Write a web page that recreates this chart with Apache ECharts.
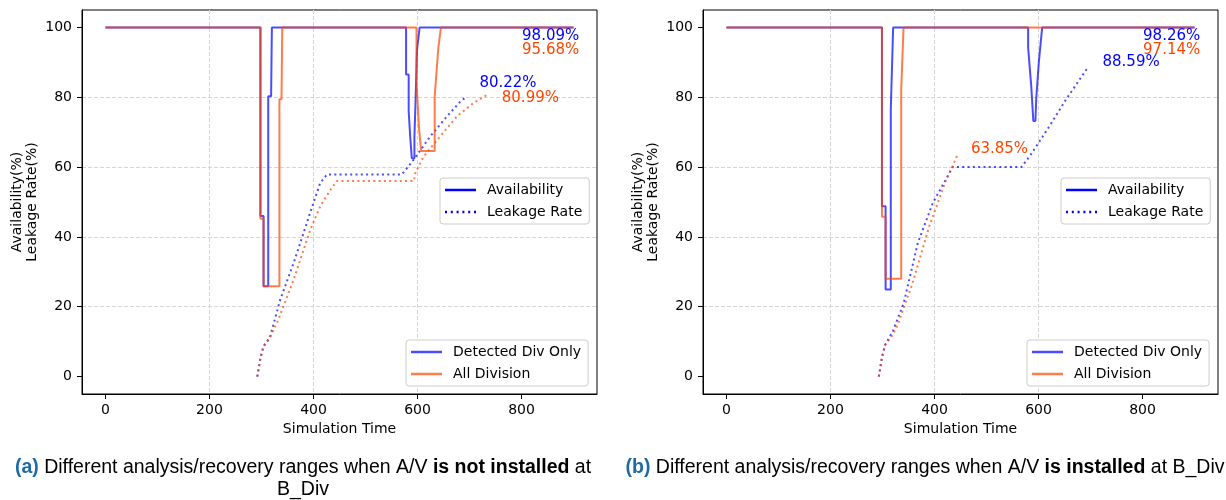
<!DOCTYPE html>
<html>
<head>
<meta charset="utf-8">
<script src="https://cdn.jsdelivr.net/npm/echarts@6/dist/echarts.min.js"></script>
<style>
  html, body { margin: 0; padding: 0; background: #fff; }
  #chart { width: 1226px; height: 500px; }
</style>
</head>
<body>
<div id="chart"></div>
<script>
// ---------- tick labels ----------
const xTicks = [0, 200, 400, 600, 800];
const yTicks = [0, 20, 40, 60, 80, 100];

// ---------- (a) A/V not installed at B_Div ----------
const aDetectedAvail = [[0,100],[298,100],[298,46],[304,46],[304,25.9],[313,25.9],[313,80.3],[318.5,80.3],[320,100],[578,100],[578,86.5],[583,86.5],[583,76],[586,68.5],[589,62.5],[594,62.5],[594,68.5],[596,78],[599,93.5],[604,100],[900,100]];
const aAllAvail = [[0,100],[298,100],[298,45.2],[304,45.2],[304,25.9],[334.5,25.9],[334.5,79.4],[338.5,79.4],[340,100],[598,100],[598,84.3],[601,84.3],[603,70.8],[607,64.6],[633,64.6],[633,80.3],[636,80.3],[640,94.2],[645,100],[900,100]];
const aDetectedLeak = [[292,0],[298,5.3],[304,8.7],[316,11.1],[336,22],[362,32.6],[400,49.8],[413,55.5],[426,57.9],[570,57.9],[593,62.2],[625,68.9],[657,74.6],[683,78.9],[695,80.22]];
const aAllLeak = [[292,0],[298,5.3],[304,8.7],[316,11.1],[330,15.4],[362,27.8],[394,42.1],[413,48.8],[433,53.6],[445,56.0],[593,56.0],[596,58.4],[612,63.1],[644,68.9],[676,74.6],[708,78.4],[737,80.99]];
const aNoteText = ['98.09%', '95.68%', '80.22%', '80.99%'];
const aNoteX = [800, 800, 718, 761];
const aNoteY = [97.4, 93.4, 84.2, 79.9];

// ---------- (b) A/V installed at B_Div ----------
const bDetectedAvail = [[0,100],[299,100],[299,48.8],[306,48.8],[306,24.9],[316,24.9],[316,76.5],[320.5,100],[580,100],[580,94.2],[583,94.2],[586,83.2],[589,83.2],[590,73.2],[594,73.2],[595.5,79.4],[600.5,89.9],[604,89.9],[607,100],[900,100]];
const bAllAvail = [[0,100],[299,100],[299,45.8],[306,45.8],[306,28],[336,28],[336,82.2],[339,82.2],[340.5,100],[900,100]];
const bDetectedLeak = [[293,0],[299,5.5],[305,9],[320,13],[341,21.1],[368,38.3],[397,49.8],[429,58.4],[435,60],[567,60],[583,63.1],[621,71.7],[653,79.4],[695,88.59]];
const bAllLeak = [[293,0],[299,5.5],[305,9],[320,12],[329.5,14.9],[358,26.8],[390,43.1],[422.5,56.4],[435,60.3],[445,63.85]];
const bNoteText = ['98.26%', '97.14%', '88.59%', '63.85%'];
const bNoteX = [800, 800, 722, 469];
const bNoteY = [97.5, 93.5, 90, 65.2];

// ---------- styling ----------
const FONT = 'DejaVu Sans';
const BLUE_A = 'rgba(0,0,255,0.7)';
const ORANGE_A = 'rgba(255,69,0,0.7)';
const BLUE_T = '#0000ff';
const ORANGE_T = '#ff4500';
const DOT = [2, 3.3];

let dotted = 'path://';
for (let i = 0; i < 6; i++) { const x = (i * 5.8).toFixed(1); dotted += `M${x},0h2v2.5h-2z`; }

function grid(left) { return { left: left, top: 10, width: 515, height: 384, show: true, borderColor: '#000', borderWidth: 1, backgroundColor: 'transparent', containLabel: false }; }

function xAx(i) {
  return {
    type: 'value', gridIndex: i, min: -45, max: 945, minInterval: 200, maxInterval: 200,
    name: 'Simulation Time', nameLocation: 'middle', nameGap: 28,
    nameTextStyle: { fontFamily: FONT, fontSize: 14, color: '#000' },
    axisLine: { show: true, onZero: false, lineStyle: { color: '#000', width: 1 } },
    axisTick: { show: true, length: 5, customValues: xTicks, lineStyle: { color: '#000', width: 1 } },
    axisLabel: { customValues: xTicks, margin: 9, fontFamily: FONT, fontSize: 14, color: '#000' },
    splitLine: { show: true, showMinLine: false, showMaxLine: false, lineStyle: { color: '#d6d6d6', type: [4, 2], width: 1 } }
  };
}
function yAx(i) {
  return {
    type: 'value', gridIndex: i, min: -5, max: 105, minInterval: 20, maxInterval: 20,
    name: 'Availability(%)\nLeakage Rate(%)', nameLocation: 'middle', nameGap: 42, nameRotate: 90,
    nameTextStyle: { fontFamily: FONT, fontSize: 14, color: '#000', lineHeight: 15, align: 'center' },
    axisLine: { show: true, onZero: false, lineStyle: { color: '#000', width: 1 } },
    axisTick: { show: true, length: 5, customValues: yTicks, lineStyle: { color: '#000', width: 1 } },
    axisLabel: { customValues: yTicks, margin: 10, fontFamily: FONT, fontSize: 14, color: '#000' },
    splitLine: { show: true, showMinLine: false, showMaxLine: false, lineStyle: { color: '#d6d6d6', type: [4, 2], width: 1 } }
  };
}

function notes(texts, xs, ys, idxs, color) {
  return {
    symbol: 'circle', symbolSize: 1, itemStyle: { color: 'rgba(0,0,0,0)' },
    label: { show: true, position: 'right', distance: 0, formatter: '{b}', color: color, fontFamily: FONT, fontSize: 15 },
    data: idxs.map(k => ({ name: texts[k], coord: [xs[k], ys[k]] }))
  };
}

function line(name, data, gi, color, dotted, mp) {
  const s = {
    type: 'line', name: name, data: data, xAxisIndex: gi, yAxisIndex: gi,
    symbol: 'none', showSymbol: false, color: color, clip: true,
    lineStyle: { color: color, width: 2, type: dotted ? DOT : 'solid', cap: 'butt' },
    emphasis: { disabled: true }
  };
  if (mp) s.markPoint = mp;
  return s;
}

const series = [
  { type: 'line', name: 'Availability', data: [], xAxisIndex: 0, yAxisIndex: 0, color: BLUE_T },
  { type: 'line', name: 'Leakage Rate', data: [], xAxisIndex: 0, yAxisIndex: 0, color: BLUE_T },
  line('Detected Div Only', aDetectedAvail, 0, BLUE_A, false, notes(aNoteText, aNoteX, aNoteY, [0], BLUE_T)),
  line('Detected Div Only', aDetectedLeak, 0, BLUE_A, true, notes(aNoteText, aNoteX, aNoteY, [2], BLUE_T)),
  line('All Division', aAllAvail, 0, ORANGE_A, false, notes(aNoteText, aNoteX, aNoteY, [1], ORANGE_T)),
  line('All Division', aAllLeak, 0, ORANGE_A, true, notes(aNoteText, aNoteX, aNoteY, [3], ORANGE_T)),
  line('Detected Div Only', bDetectedAvail, 1, BLUE_A, false, notes(bNoteText, bNoteX, bNoteY, [0], BLUE_T)),
  line('Detected Div Only', bDetectedLeak, 1, BLUE_A, true, notes(bNoteText, bNoteX, bNoteY, [2], BLUE_T)),
  line('All Division', bAllAvail, 1, ORANGE_A, false, notes(bNoteText, bNoteX, bNoteY, [1], ORANGE_T)),
  line('All Division', bAllLeak, 1, ORANGE_A, true, notes(bNoteText, bNoteX, bNoteY, [3], ORANGE_T))
];

function legendBox(left, top, items) {
  return {
    orient: 'vertical', left: left, top: top, align: 'left',
    itemWidth: 31, itemHeight: 2.5, itemGap: 8, padding: [5, 7, 5, 5],
    borderColor: '#cccccc', borderWidth: 1, borderRadius: 3, backgroundColor: 'rgba(255,255,255,0.8)',
    textStyle: { fontFamily: FONT, fontSize: 14, color: '#000', padding: [0, 0, 0, 6] },
    selectedMode: false, data: items
  };
}
const typeItems = [
  { name: 'Availability', icon: 'rect', itemStyle: { color: BLUE_T } },
  { name: 'Leakage Rate', icon: dotted, itemStyle: { color: BLUE_T } }
];
const caseItems = [
  { name: 'Detected Div Only', icon: 'rect', itemStyle: { color: BLUE_A } },
  { name: 'All Division', icon: 'rect', itemStyle: { color: ORANGE_A } }
];

const CAP = 'Liberation Sans';
function caption(x, text) {
  return {
    type: 'text', x: x, y: 457, z: 10,
    style: {
      text: text, align: 'center', verticalAlign: 'top',
      fontFamily: CAP, fontSize: 19.5, fill: '#000', lineHeight: 22,
      rich: {
        l: { fontFamily: CAP, fontSize: 19.5, fontWeight: 'bold', fill: '#1f6aa5', lineHeight: 22 },
        b: { fontFamily: CAP, fontSize: 19.5, fontWeight: 'bold', fill: '#000', lineHeight: 22 }
      }
    }
  };
}

const chart = echarts.init(document.getElementById('chart'), null, { renderer: 'canvas' });
chart.setOption({
  animation: false,
  backgroundColor: '#fff',
  grid: [grid(82), grid(703)],
  xAxis: [xAx(0), xAx(1)],
  yAxis: [yAx(0), yAx(1)],
  legend: [
    legendBox(440, 178, typeItems),
    legendBox(406, 340, caseItems),
    legendBox(1061, 178, typeItems),
    legendBox(1027, 340, caseItems)
  ],
  series: series,
  graphic: [
    caption(303, '{l|(a)} Different analysis/recovery ranges when A/V {b|is not installed} at\nB_Div'),
    caption(925, '{l|(b)} Different analysis/recovery ranges when A/V {b|is installed} at B_Div')
  ]
});
</script>
</body>
</html>
